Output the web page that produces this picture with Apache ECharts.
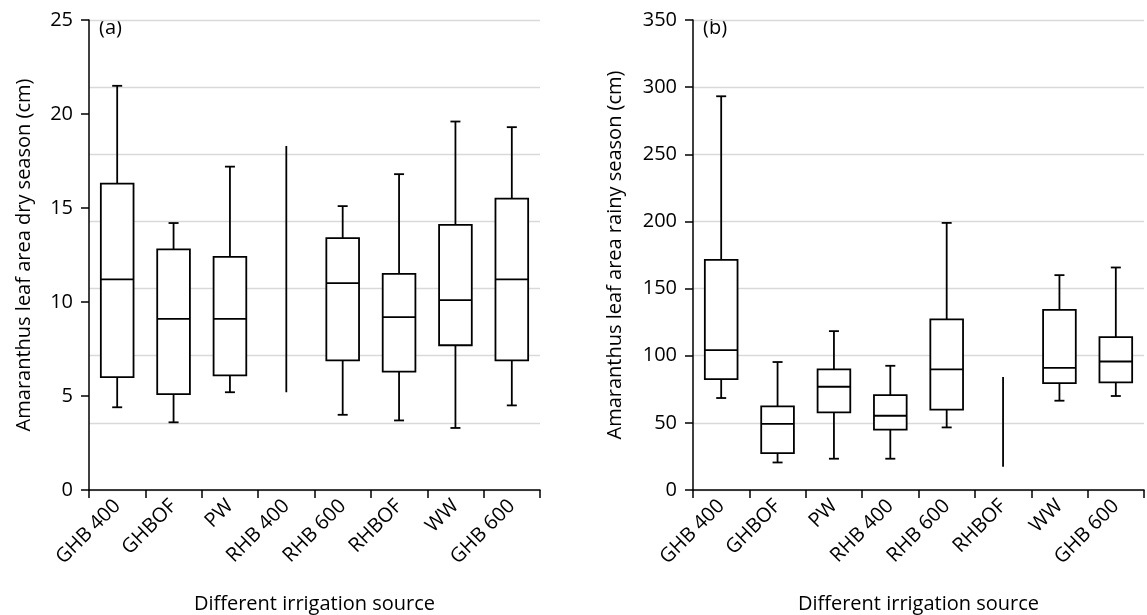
<!DOCTYPE html>
<html>
<head>
<meta charset="UTF-8">
<title>Amaranthus leaf area</title>
<script src="https://cdn.jsdelivr.net/npm/echarts@6/dist/echarts.min.js"></script>
<style>
    html, body { margin: 0; padding: 0; background: #ffffff; }
    #main { width: 1147px; height: 615px; }
</style>
</head>
<body>
<div id="main"></div>
<script>
var categories = ['GHB 400', 'GHBOF', 'PW', 'RHB 400', 'RHB 600', 'RHBOF', 'WW', 'GHB 600'];

// [low whisker, Q1, median, Q3, high whisker]; null box -> whisker line only
var drySeason = [
    [4.4, 6.0, 11.2, 16.3, 21.5],
    [3.6, 5.1, 9.1, 12.8, 14.2],
    [5.2, 6.1, 9.1, 12.4, 17.2],
    [5.2, null, null, null, 18.3],
    [4.0, 6.9, 11.0, 13.4, 15.1],
    [3.7, 6.3, 9.2, 11.5, 16.8],
    [3.3, 7.7, 10.1, 14.1, 19.6],
    [4.5, 6.9, 11.2, 15.5, 19.3]
];
var rainySeason = [
    [68.5, 82.6, 104.2, 171.4, 293.2],
    [20.5, 27.5, 49.3, 62.2, 95.3],
    [23.3, 57.8, 76.9, 89.8, 118.3],
    [23.3, 44.9, 55.3, 70.7, 92.5],
    [46.6, 59.8, 89.8, 127.0, 198.9],
    [17.3, null, null, null, 84.1],
    [66.5, 79.6, 91.0, 134.2, 160.0],
    [70.0, 80.1, 95.7, 113.9, 165.7]
];

var FONT = 'Open Sans';
var chart = echarts.init(document.getElementById('main'));

function boxRenderer(stats) {
    return function (params, api) {
        var s = stats[params.dataIndex];
        var i = api.value(0);
        var lo = api.coord([i, s[0]]);
        var hi = api.coord([i, s[4]]);
        var x = lo[0];
        var half = api.size([1, 0])[0] * 0.29;
        var cap = 5;
        var st = { stroke: '#000', lineWidth: 1.8, fill: null };
        var kids = [];
        function seg(x1, y1, x2, y2) {
            kids.push({ type: 'line', shape: { x1: x1, y1: y1, x2: x2, y2: y2 }, style: st });
        }
        if (s[1] == null) {
            seg(x, lo[1], x, hi[1]);
        } else {
            var q1 = api.coord([i, s[1]])[1];
            var med = api.coord([i, s[2]])[1];
            var q3 = api.coord([i, s[3]])[1];
            seg(x, lo[1], x, q1);
            seg(x, q3, x, hi[1]);
            seg(x - cap, lo[1], x + cap, lo[1]);
            seg(x - cap, hi[1], x + cap, hi[1]);
            kids.push({ type: 'rect', shape: { x: x - half, y: q3, width: half * 2, height: q1 - q3 },
                style: { stroke: '#000', lineWidth: 1.8, fill: '#fff' } });
            seg(x - half, med, x + half, med);
        }
        return { type: 'group', children: kids };
    };
}

function xAxisFor(gi) {
    return {
        gridIndex: gi,
        type: 'category',
        data: categories,
        boundaryGap: true,
        axisLine: { lineStyle: { color: '#000', width: 1.5 } },
        axisTick: { show: true, length: 8, interval: 0, lineStyle: { color: '#000', width: 1.5 } },
        axisLabel: { interval: 0, rotate: 45, margin: 13, color: '#000', fontSize: 20, fontFamily: FONT },
        name: 'Different irrigation source',
        nameLocation: 'middle',
        nameGap: 104,
        nameTextStyle: { color: '#000', fontSize: 20, fontFamily: FONT }
    };
}

function yAxisFor(gi, max, interval, name, split, gap) {
    return {
        gridIndex: gi,
        type: 'value',
        min: 0, max: max, interval: interval,
        axisLine: { show: true, lineStyle: { color: '#000', width: 1.5 } },
        axisTick: { show: true, length: 8, lineStyle: { color: '#000', width: 1.5 } },
        axisLabel: { color: '#000', fontSize: 20, fontFamily: FONT, margin: 16 },
        splitLine: { show: split, lineStyle: { color: '#d9d9d9', width: 1.3 } },
        name: name,
        nameLocation: 'middle',
        nameGap: gap,
        nameTextStyle: { color: '#000', fontSize: 20, fontFamily: FONT }
    };
}

var option = {
    animation: false,
    backgroundColor: '#fff',
    grid: [
        { left: 89, right: 607, top: 20, bottom: 125, outerBoundsMode: 'none' },
        { left: 693, right: 3, top: 20, bottom: 125, outerBoundsMode: 'none' }
    ],
    xAxis: [xAxisFor(0), xAxisFor(1)],
    yAxis: [
        yAxisFor(0, 25, 5, 'Amaranthus leaf area dry season (cm)', false, 55),
        // panel (a) gridlines follow a 7-division template
        {
            gridIndex: 0, type: 'value', min: 0, max: 7, interval: 1,
            axisLine: { show: false }, axisTick: { show: false }, axisLabel: { show: false },
            splitLine: { show: true, lineStyle: { color: '#d9d9d9', width: 1.3 } }
        },
        yAxisFor(1, 350, 50, 'Amaranthus leaf area rainy season (cm)', true, 68)
    ],
    graphic: [
        { type: 'text', left: 99, top: 18, style: { text: '(a)', fontSize: 20, fontFamily: FONT, fill: '#000' } },
        { type: 'text', left: 703, top: 18, style: { text: '(b)', fontSize: 20, fontFamily: FONT, fill: '#000' } }
    ],
    series: [
        {
            type: 'custom', xAxisIndex: 0, yAxisIndex: 0,
            renderItem: boxRenderer(drySeason),
            encode: { x: 0, y: [1, 2] },
            data: drySeason.map(function (s, i) { return [i, s[0], s[4]]; })
        },
        {
            type: 'custom', xAxisIndex: 1, yAxisIndex: 2,
            renderItem: boxRenderer(rainySeason),
            encode: { x: 0, y: [1, 2] },
            data: rainySeason.map(function (s, i) { return [i, s[0], s[4]]; })
        }
    ]
};

chart.setOption(option);
</script>
</body>
</html>
